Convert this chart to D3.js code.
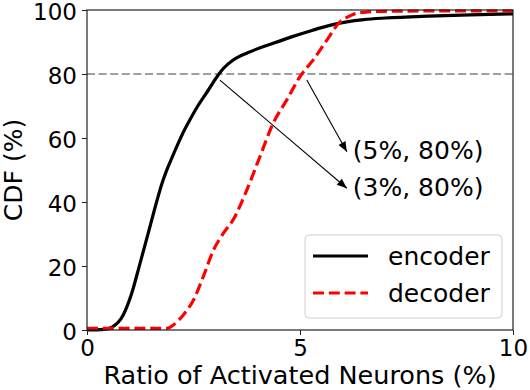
<!DOCTYPE html>
<html>
<head>
<meta charset="utf-8">
<script src="https://cdn.jsdelivr.net/npm/d3@7"></script>
<style>
  body { margin: 0; background: white; }
  text { font-family: "DejaVu Sans", sans-serif; }
</style>
</head>
<body>
<svg width="530" height="390"></svg>
<script>
// values
const encoderX = [0, 0.4, 0.6, 0.85, 1.05, 1.24, 1.44, 1.64, 1.75, 1.87, 2.0, 2.14, 2.26, 2.4, 2.6, 2.85, 3.08, 3.2, 3.43, 3.8, 4.37, 4.8, 5.3, 5.7, 6.1, 6.5, 7, 8, 9, 10];
const encoderY = [0, 0.2, 1.0, 4.7, 11.5, 20.6, 30.4, 40.3, 45.4, 49.9, 54, 58.3, 61.8, 65.3, 70, 75, 79.7, 81.7, 84.4, 86.8, 89.6, 91.6, 93.7, 95.2, 96.3, 97, 97.5, 98.1, 98.5, 98.8];
const decoderX = [0, 1.87, 2.03, 2.26, 2.5, 2.73, 2.97, 3.2, 3.43, 3.75, 4.06, 4.37, 4.69, 5.0, 5.31, 5.63, 5.94, 6.15, 6.33, 6.6, 7, 8, 10];
const decoderY = [0.5, 0.5, 1.6, 4.7, 9.4, 16.7, 25, 30.2, 34.4, 43.7, 54.2, 64.6, 71.9, 79.2, 84.4, 90.6, 96.3, 98, 99, 99.4, 99.6, 99.7, 99.7];
const xTicks = [0, 5, 10];
const yTicks = [0, 20, 40, 60, 80, 100];
const refLevel = 80;
const seriesNames = ["encoder", "decoder"];
const annoLabels = ["(5%, 80%)", "(3%, 80%)"];
const annoFrom = [[5.16, 78.1], [3.12, 78.1]];
const annoTo = [[6.1, 55.7], [6.1, 44.3]];
const annoText = [[6.24, 56.2], [6.24, 44.7]];

function drawChart() {
    const svg = d3.select("svg");

    const scX = d3.scaleLinear().domain([0, 10]).range([87, 513]);
    const scY = d3.scaleLinear().domain([0, 100]).range([330, 10]);

    svg.append("defs").append("marker")
       .attr("id", "head")
       .attr("markerUnits", "userSpaceOnUse")
       .attr("viewBox", "0 0 10 8")
       .attr("refX", 10).attr("refY", 4)
       .attr("markerWidth", 11).attr("markerHeight", 8)
       .attr("orient", "auto")
       .append("path").attr("d", "M0,0 L10,4 L0,8 Z").attr("fill", "black");

    // reference line at 80%
    svg.append("line")
       .attr("x1", scX(0)).attr("x2", scX(10))
       .attr("y1", scY(refLevel)).attr("y2", scY(refLevel))
       .attr("stroke", "#808080").attr("stroke-width", 1.6)
       .attr("stroke-dasharray", "8,3.6");

    const line = d3.line()
        .x(d => scX(d[0])).y(d => scY(d[1]))
        .curve(d3.curveMonotoneX);

    svg.append("path")
       .datum(d3.zip(encoderX, encoderY))
       .attr("d", line)
       .attr("fill", "none").attr("stroke", "black").attr("stroke-width", 3.2);

    svg.append("path")
       .datum(d3.zip(decoderX, decoderY))
       .attr("d", line)
       .attr("fill", "none").attr("stroke", "#ff0000").attr("stroke-width", 3.2)
       .attr("stroke-dasharray", "11,4.8");

    // annotations
    annoLabels.forEach((lab, i) => {
        svg.append("line")
           .attr("x1", scX(annoFrom[i][0])).attr("y1", scY(annoFrom[i][1]))
           .attr("x2", scX(annoTo[i][0])).attr("y2", scY(annoTo[i][1]))
           .attr("stroke", "black").attr("stroke-width", 1.1)
           .attr("marker-end", "url(#head)");
        svg.append("text")
           .attr("x", scX(annoText[i][0])).attr("y", scY(annoText[i][1]))
           .attr("dy", "0.35em")
           .attr("font-size", 25)
           .text(lab);
    });

    // axes
    const xAxis = svg.append("g")
       .attr("transform", "translate(0," + scY(0) + ")")
       .call(d3.axisBottom(scX).tickValues(xTicks).tickSize(5).tickPadding(5));
    const yAxis = svg.append("g")
       .attr("transform", "translate(" + scX(0) + ",0)")
       .call(d3.axisLeft(scY).tickValues(yTicks).tickSize(5).tickPadding(5));
    [xAxis, yAxis].forEach(a => {
        a.selectAll("text").attr("font-size", 23).attr("font-family", "DejaVu Sans").attr("fill", "black");
        a.select(".domain").remove();
        a.selectAll("line").attr("stroke", "#222");
    });
    yAxis.selectAll("text").attr("dy", "0.4em");

    svg.append("rect")
       .attr("x", scX(0)).attr("y", scY(100))
       .attr("width", scX(10) - scX(0)).attr("height", scY(0) - scY(100))
       .attr("fill", "none").attr("stroke", "#222").attr("stroke-width", 1.2);

    svg.append("text")
       .attr("x", (scX(0) + scX(10)) / 2).attr("y", 384)
       .attr("text-anchor", "middle").attr("font-size", 25.5)
       .text("Ratio of Activated Neurons (%)");

    svg.append("text")
       .attr("transform", "translate(22," + scY(50) + ") rotate(-90)")
       .attr("text-anchor", "middle").attr("font-size", 25)
       .text("CDF (%)");

    // legend
    const leg = svg.append("g");
    leg.append("rect")
       .attr("x", 305).attr("y", 235).attr("width", 197).attr("height", 83)
       .attr("rx", 4).attr("fill", "white").attr("fill-opacity", 0.8)
       .attr("stroke", "#d0d0d0").attr("stroke-width", 1);
    const styles = [["black", null], ["#ff0000", "11,4.8"]];
    seriesNames.forEach((name, i) => {
        const yy = 256 + i * 37;
        leg.append("line")
           .attr("x1", 313).attr("x2", 368).attr("y1", yy).attr("y2", yy)
           .attr("stroke", styles[i][0]).attr("stroke-width", 3.2)
           .attr("stroke-dasharray", styles[i][1]);
        leg.append("text")
           .attr("x", 388).attr("y", yy).attr("dy", "0.35em")
           .attr("font-size", 25)
           .text(name);
    });
}

drawChart();
</script>
</body>
</html>
